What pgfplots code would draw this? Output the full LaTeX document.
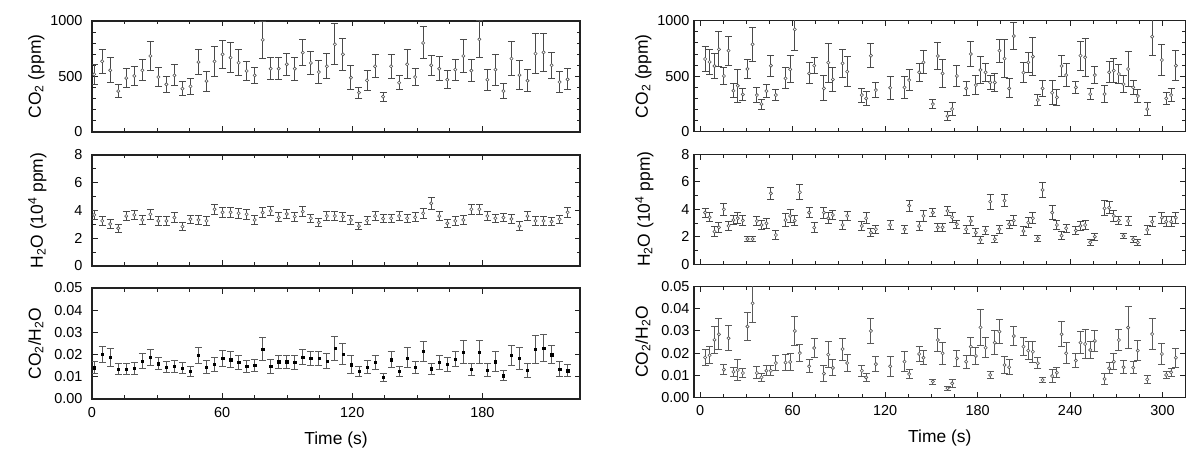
\documentclass[border=0pt]{standalone}
\usepackage{fontspec}
\setmainfont{Liberation Sans}
\usepackage{pgfplots}
\pgfplotsset{compat=1.18}
\usepackage{pgfplotstable}

\definecolor{axc}{HTML}{222222}
\definecolor{errc}{HTML}{4A4A4A}
\definecolor{errr}{HTML}{5A5A5A}
\definecolor{mkc}{HTML}{555555}

\pgfplotstableread{
x y e
1 520 90
4.7 637 110
8.4 556 112
12.1 369 57
15.8 486 87
19.5 505 83
23.2 556 95
26.9 685 128
30.6 495 83
34.3 429 72
38 510 95
41.7 390 63
45.4 411 72
49.1 630 111
52.8 459 90
56.5 636 132
60.2 700 128
63.9 670 137
67.6 624 115
71.3 550 85
75 510 75
78.7 830 165
82.4 570 100
86.1 570 100
89.8 610 101
93.5 570 105
97.2 715 120
100.9 622 102
104.6 540 102
108.3 592 112
112 790 185
115.7 700 145
119.4 489 110
123.1 354 50
126.8 465 92
130.5 592 103
134.2 318 42
137.9 592 108
141.6 444 65
145.3 610 130
149 495 80
152.7 802 144
156.4 601 90
160.1 570 108
163.8 471 83
167.5 562 95
171.2 685 150
174.9 553 100
178.6 835 165
182.3 471 96
186 562 140
189.7 369 66
193.4 661 155
197.1 513 132
200.8 462 100
204.5 706 177
208.2 718 170
211.9 601 117
215.6 450 96
219.3 474 95
}\tLco

\pgfplotstableread{
x y e
1 3.68 0.33
4.7 3.25 0.3
8.4 3.03 0.3
12.1 2.72 0.28
15.8 3.60 0.33
19.5 3.68 0.33
23.2 3.32 0.3
26.9 3.73 0.35
30.6 3.25 0.3
34.3 3.25 0.3
38 3.49 0.33
41.7 2.84 0.28
45.4 3.37 0.3
49.1 3.32 0.3
52.8 3.25 0.3
56.5 4.09 0.36
60.2 3.87 0.35
63.9 3.87 0.35
67.6 3.80 0.35
71.3 3.73 0.35
75 3.32 0.3
78.7 3.85 0.35
82.4 3.97 0.35
86.1 3.51 0.33
89.8 3.75 0.33
93.5 3.56 0.33
97.2 3.92 0.35
100.9 3.44 0.3
104.6 3.13 0.3
108.3 3.60 0.33
112 3.60 0.33
115.7 3.56 0.33
119.4 3.32 0.3
123.1 2.88 0.28
126.8 3.27 0.3
130.5 3.60 0.33
134.2 3.41 0.3
137.9 3.44 0.3
141.6 3.60 0.33
145.3 3.44 0.3
149 3.51 0.33
152.7 3.80 0.35
156.4 4.52 0.42
160.1 3.60 0.33
163.8 3.08 0.3
167.5 3.25 0.3
171.2 3.32 0.3
174.9 4.09 0.36
178.6 4.09 0.36
182.3 3.60 0.33
186 3.44 0.3
189.7 3.49 0.3
193.4 3.39 0.3
197.1 2.88 0.3
200.8 3.60 0.33
204.5 3.25 0.3
208.2 3.25 0.3
211.9 3.20 0.3
215.6 3.37 0.3
219.3 3.87 0.35
}\tLhw

\pgfplotstableread{
x y e
1 0.0141 0.0028
4.7 0.0201 0.0037
8.4 0.0188 0.0040
12.1 0.0135 0.0026
15.8 0.0135 0.0026
19.5 0.0138 0.0026
23.2 0.0170 0.0034
26.9 0.0188 0.0036
30.6 0.0159 0.0028
34.3 0.0144 0.0026
38 0.0147 0.0028
41.7 0.0140 0.0025
45.4 0.0125 0.0023
49.1 0.0198 0.0036
52.8 0.0144 0.0030
56.5 0.0156 0.0033
60.2 0.0183 0.0036
63.9 0.0177 0.0036
67.6 0.0165 0.0033
71.3 0.0147 0.0026
75 0.0153 0.0027
78.7 0.0225 0.0052
82.4 0.0147 0.0030
86.1 0.0168 0.0030
89.8 0.0168 0.0030
93.5 0.0165 0.0033
97.2 0.0188 0.0033
100.9 0.0183 0.0033
104.6 0.0183 0.0033
108.3 0.0170 0.0033
112 0.0228 0.0056
115.7 0.0203 0.0046
119.4 0.0155 0.0042
123.1 0.0125 0.0022
126.8 0.0144 0.0030
130.5 0.0165 0.0030
134.2 0.0098 0.0017
137.9 0.0177 0.0036
141.6 0.0125 0.0022
145.3 0.0185 0.0045
149 0.0144 0.0027
152.7 0.0215 0.0045
156.4 0.0137 0.0025
160.1 0.0165 0.0030
163.8 0.0156 0.0032
167.5 0.0180 0.0033
171.2 0.0212 0.0050
174.9 0.0135 0.0027
178.6 0.0212 0.0050
182.3 0.0131 0.0030
186 0.0168 0.0046
189.7 0.0105 0.0022
193.4 0.0197 0.0045
197.1 0.0183 0.0050
200.8 0.0129 0.0033
204.5 0.0225 0.0063
208.2 0.0230 0.0063
211.9 0.0200 0.0042
215.6 0.0135 0.0033
219.3 0.0128 0.0028
}\tLra

\pgfplotstableread{
x y e
3.2 655 110
6.1 628 110
9.3 592 115
12.2 742 158
15.4 502 80
18.4 730 132
21.6 369 65
24.4 414 150
27.7 336 51
30.7 565 83
34.0 787 153
36.8 330 69
39.8 249 45
43.0 366 60
45.9 595 95
49.1 330 53
55.4 480 94
58.4 562 120
61.4 922 190
70.7 525 95
74.0 595 75
80.3 390 113
83.1 622 176
86.1 471 108
92.4 616 128
95.4 541 136
104.9 330 63
107.7 300 65
110.8 685 110
114.0 375 70
123.3 396 105
132.6 399 98
135.6 465 94
142.1 535 79
144.9 625 104
151.0 249 44
154.2 682 120
157.3 525 125
160.5 141 38
163.5 204 56
166.6 502 91
172.6 390 60
175.6 700 110
178.9 420 83
181.9 556 124
185.2 535 79
188.2 444 63
191.2 444 78
194.2 730 105
197.5 658 173
200.5 390 86
203.5 862 120
209.8 532 91
212.9 625 92
215.9 676 173
219.1 285 50
222.2 390 74
228.4 351 110
231.5 309 75
234.5 592 95
237.5 510 104
243.8 399 57
246.8 685 132
249.8 670 173
253.1 339 48
256.1 510 74
262.4 339 78
265.4 535 95
268.4 550 110
271.7 520 83
274.7 429 77
277.7 565 155
281.0 399 60
284.0 321 56
290.1 204 56
293.3 856 170
299.6 646 144
302.4 300 53
305.6 330 57
308.7 595 136
}\tRco

\pgfplotstableread{
x y e
3.2 3.76 0.33
6.1 3.42 0.33
9.3 2.38 0.35
12.2 2.69 0.35
15.4 4.00 0.45
18.4 2.79 0.3
21.6 3.22 0.3
24.4 3.35 0.4
27.7 3.18 0.35
30.7 1.84 0.2
34.0 1.84 0.2
36.8 3.15 0.35
39.8 2.86 0.3
43.0 2.98 0.35
45.9 5.16 0.45
49.1 2.13 0.3
55.4 3.22 0.45
58.4 3.52 0.45
61.4 3.18 0.35
64.7 5.24 0.55
70.7 3.76 0.35
74.0 2.67 0.35
80.3 3.76 0.4
83.1 3.35 0.4
86.1 3.59 0.35
92.4 2.86 0.3
95.4 3.52 0.35
104.9 2.79 0.3
107.7 3.35 0.4
110.8 2.30 0.3
114.0 2.55 0.3
123.3 2.86 0.35
132.6 2.55 0.3
135.6 4.27 0.4
142.1 2.79 0.3
144.9 3.52 0.4
151.0 3.76 0.3
154.2 2.69 0.3
157.3 2.69 0.3
160.5 3.88 0.35
163.5 3.42 0.35
166.6 2.91 0.3
172.6 2.55 0.3
175.6 3.15 0.35
178.9 2.30 0.3
181.9 1.77 0.25
185.2 2.45 0.3
188.2 4.56 0.55
191.2 1.82 0.25
194.2 2.55 0.3
197.5 4.63 0.45
200.5 2.91 0.3
203.5 3.18 0.35
209.8 2.42 0.3
212.9 3.03 0.35
215.9 3.35 0.4
219.1 1.89 0.2
222.2 5.41 0.55
228.4 3.76 0.5
231.5 2.86 0.3
234.5 2.08 0.3
237.5 2.62 0.3
243.8 2.45 0.3
246.8 2.79 0.3
249.8 2.86 0.35
253.1 1.60 0.2
256.1 2.01 0.25
262.4 4.07 0.55
265.4 4.12 0.45
268.4 3.52 0.4
271.7 3.18 0.3
274.7 2.06 0.2
277.7 3.15 0.35
281.0 1.82 0.2
284.0 1.58 0.2
290.1 2.50 0.3
293.3 3.10 0.35
299.6 3.39 0.4
302.4 3.10 0.35
305.6 3.10 0.35
308.7 3.39 0.4
}\tRhw

\pgfplotstableread{
x y e
3.2 0.0180 0.0035
6.1 0.0190 0.0038
9.3 0.0260 0.0060
12.2 0.0285 0.0071
15.4 0.0125 0.0024
18.4 0.0267 0.0056
21.6 0.0115 0.0021
24.4 0.0123 0.0047
27.7 0.0110 0.0020
30.7 0.0320 0.0064
34.0 0.0425 0.0085
36.8 0.0110 0.0027
39.8 0.0090 0.0017
43.0 0.0120 0.0023
45.9 0.0120 0.0023
49.1 0.0155 0.0032
55.4 0.0157 0.0036
58.4 0.0160 0.0038
61.4 0.0300 0.0065
64.7 0.0200 0.0038
70.7 0.0140 0.0029
74.0 0.0223 0.0042
80.3 0.0107 0.0035
83.1 0.0193 0.0060
86.1 0.0133 0.0036
92.4 0.0218 0.0050
95.4 0.0155 0.0039
104.9 0.0120 0.0024
107.7 0.0090 0.0017
110.8 0.0300 0.0058
114.0 0.0150 0.0034
123.3 0.0140 0.0044
132.6 0.0161 0.0044
135.6 0.0105 0.0020
142.1 0.0196 0.0035
144.9 0.0179 0.0032
151.0 0.0071 0.0011
154.2 0.0259 0.0054
157.3 0.0199 0.0051
160.5 0.0041 0.0009
163.5 0.0063 0.0017
166.6 0.0176 0.0036
172.6 0.0161 0.0030
175.6 0.0229 0.0042
178.9 0.0187 0.0040
181.9 0.0316 0.0083
185.2 0.0224 0.0045
188.2 0.0101 0.0017
191.2 0.0247 0.0053
194.2 0.0297 0.0054
197.5 0.0146 0.0040
200.5 0.0136 0.0034
203.5 0.0277 0.0045
209.8 0.0229 0.0040
212.9 0.0211 0.0040
215.9 0.0206 0.0048
219.1 0.0154 0.0026
222.2 0.0078 0.0013
228.4 0.0096 0.0028
231.5 0.0111 0.0023
234.5 0.0285 0.0057
237.5 0.0199 0.0047
243.8 0.0166 0.0033
246.8 0.0247 0.0050
249.8 0.0241 0.0064
253.1 0.0214 0.0038
256.1 0.0255 0.0048
262.4 0.0083 0.0023
265.4 0.0131 0.0025
268.4 0.0161 0.0036
271.7 0.0259 0.0049
274.7 0.0136 0.0029
277.7 0.0315 0.0096
281.0 0.0134 0.0026
284.0 0.0211 0.0044
290.1 0.0081 0.0017
293.3 0.0286 0.0068
299.6 0.0196 0.0047
302.4 0.0101 0.0017
305.6 0.0113 0.0019
308.7 0.0179 0.0043
}\tRra

\pgfplotsset{
  panel/.style={
    scale only axis,
    axis line style={line width=1.2bp, draw=axc},
    every tick/.style={line width=0.9bp, draw=axc},
    tick align=inside,
    xtick pos=both, ytick pos=both,
    major tick length=5.5bp, minor tick length=3.5bp,
    tick label style={font=\fontsize{14.5}{16}\selectfont},
    label style={font=\fontsize{17.5}{20}\selectfont},
    /pgf/number format/assume math mode=true,
    /pgf/number format/1000 sep={},
    xlabel style={at={(axis description cs:0.5,-0.297)}, anchor=north, inner sep=0pt},
    clip=true,
  },
  leftcol/.style={panel, width=488bp, height=111bp, xmin=0, xmax=225,
    xtick={0,60,120,180}, minor x tick num=3,
    yticklabel style={xshift=-6bp},
    ylabel style={at={(axis description cs:-0.131,0.5)}, anchor=north, inner sep=0pt},
  },
  rightcol/.style={panel, width=491.6bp, xmin=-4, xmax=315,
    xtick={0,60,120,180,240,300}, minor x tick num=3,
    yticklabel style={xshift=-1bp},
    ylabel style={at={(axis description cs:-0.120,0.5)}, anchor=north, inner sep=0pt},
  },
  coax/.style={ymin=0, ymax=1000, ytick={0,500,1000}, minor y tick num=4, xticklabels={},
    ylabel={CO\textsubscript{2} (ppm)}},
  hwax/.style={ymin=0, ymax=8, ytick={0,2,4,6,8}, minor y tick num=1, xticklabels={},
    ylabel={H\textsubscript{2}O (10\textsuperscript{4} ppm)}},
  raax/.style={ymin=0, ymax=0.05, ytick={0,0.01,0.02,0.03,0.04,0.05}, scaled y ticks=false,
    yticklabel style={/pgf/number format/.cd, fixed, fixed zerofill, precision=2},
    xticklabel style={yshift=-4.5bp},
    ylabel={CO\textsubscript{2}/H\textsubscript{2}O}, xlabel={Time (s)}},
  openmk/.style={only marks, mark=*, mark size=1.6bp,
    mark options={draw=mkc, fill=white, line width=0.6bp},
    error bars/.cd, y dir=both, y explicit,
    error bar style={line width=1bp, draw=#1},
    error mark options={rotate=90, mark size=3.5bp, line width=1bp, draw=#1}},
  sqmk/.style={only marks, mark=square*, mark size=1.15bp,
    mark options={draw=black, fill=black},
    error bars/.cd, y dir=both, y explicit,
    error bar style={line width=0.9bp, draw=errr},
    error mark options={rotate=90, mark size=3.5bp, line width=0.9bp, draw=errr}},
}

\begin{document}
\begin{tikzpicture}
\path (0,0) rectangle (1200bp,454bp);

% left column
\begin{axis}[leftcol, coax, at={(92bp,322bp)}, anchor=south west]
\addplot[openmk=errc] table[x=x, y=y, y error=e] {\tLco};
\end{axis}
\begin{axis}[leftcol, hwax, at={(92bp,188bp)}, anchor=south west]
\addplot[openmk=errc] table[x=x, y=y, y error=e] {\tLhw};
\end{axis}
\begin{axis}[leftcol, raax, at={(92bp,55bp)}, anchor=south west]
\addplot[sqmk] table[x=x, y=y, y error=e] {\tLra};
\end{axis}

% right column
\begin{axis}[rightcol, coax, height=111bp, at={(694bp,322.3bp)}, anchor=south west]
\addplot[openmk=errc] table[x=x, y=y, y error=e] {\tRco};
\end{axis}
\begin{axis}[rightcol, hwax, height=110bp, at={(694bp,189.7bp)}, anchor=south west]
\addplot[openmk=errc] table[x=x, y=y, y error=e] {\tRhw};
\end{axis}
\begin{axis}[rightcol, raax, height=110.6bp, at={(694bp,56.7bp)}, anchor=south west]
\addplot[openmk=errr] table[x=x, y=y, y error=e] {\tRra};
\end{axis}
\end{tikzpicture}
\end{document}
